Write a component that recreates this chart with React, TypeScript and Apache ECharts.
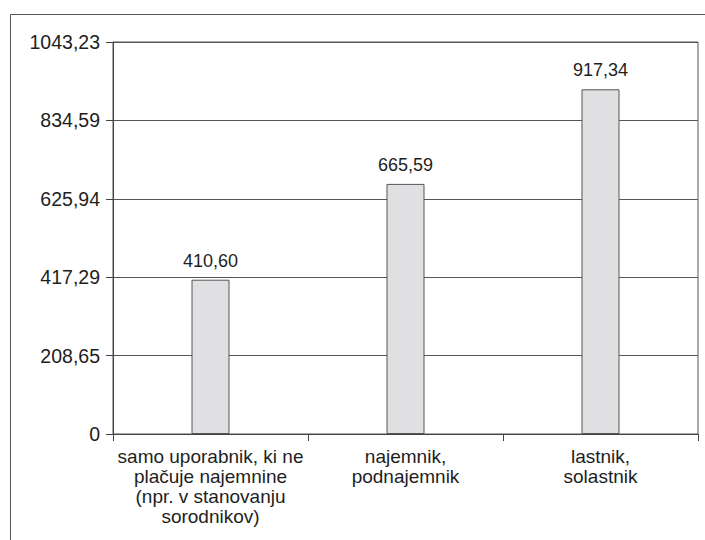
import React, { useEffect, useRef } from "react";
import * as echarts from "echarts";

const categories = [
  "samo uporabnik, ki ne\nplačuje najemnine\n(npr. v stanovanju\nsorodnikov)",
  "najemnik,\npodnajemnik",
  "lastnik,\nsolastnik",
];
const values = [410.6, 665.59, 917.34];
const valueLabels = ["410,60", "665,59", "917,34"];
const yTickLabels = ["0", "208,65", "417,29", "625,94", "834,59", "1043,23"];
const yMax = 1043.23;

const FONT = "'Liberation Sans', Arial, Helvetica, sans-serif";

export default function App() {
  const ref = useRef<HTMLDivElement>(null);
  useEffect(() => {
    if (!ref.current) return;
    const chart = echarts.init(ref.current, undefined, { renderer: "svg" });
    const interval = yMax / 5;
    chart.setOption({
      animation: false,
      backgroundColor: "#ffffff",
      textStyle: { fontFamily: FONT },
      graphic: [
        {
          type: "rect",
          left: 8,
          top: 12,
          shape: { x: 0.5, y: 0.5, width: 760, height: 600 },
          style: { fill: "none", stroke: "#555555", lineWidth: 1 },
          silent: true,
        },
      ],
      grid: {
        left: 113,
        right: 7,
        top: 42,
        bottom: 106,
        show: true,
        borderColor: "#555555",
        borderWidth: 1,
        backgroundColor: "transparent",
      },
      xAxis: {
        type: "category",
        data: categories,
        axisLine: { lineStyle: { color: "#444444", width: 1 } },
        axisTick: { show: true, length: 7, lineStyle: { color: "#444444" } },
        axisLabel: {
          color: "#1e1e1e",
          fontSize: 19,
          fontFamily: FONT,
          lineHeight: 20,
          margin: 12,
          interval: 0,
          align: "center",
        },
      },
      yAxis: {
        type: "value",
        min: 0,
        max: yMax,
        interval: interval,
        axisLine: { show: true, lineStyle: { color: "#444444", width: 1 } },
        axisTick: { show: true, length: 7, lineStyle: { color: "#444444" } },
        splitLine: { show: true, lineStyle: { color: "#555555", width: 1 } },
        axisLabel: {
          color: "#1e1e1e",
          fontSize: 19.5,
          fontFamily: FONT,
          margin: 13,
          formatter: (v: number) => {
            const idx = Math.round(v / interval);
            return yTickLabels[idx] ?? "";
          },
        },
      },
      series: [
        {
          type: "bar",
          data: values,
          barWidth: 38,
          itemStyle: {
            color: "#e0e0e2",
            borderColor: "#555555",
            borderWidth: 1,
          },
          label: {
            show: true,
            position: "top",
            distance: 10,
            color: "#1e1e1e",
            fontSize: 18,
            fontFamily: FONT,
            formatter: (p: any) => valueLabels[p.dataIndex],
          },
        },
      ],
    });
    return () => chart.dispose();
  }, []);
  return (
    <div
      ref={ref}
      style={{ position: "fixed", left: 0, top: 0, width: 705, height: 540 }}
    />
  );
}
